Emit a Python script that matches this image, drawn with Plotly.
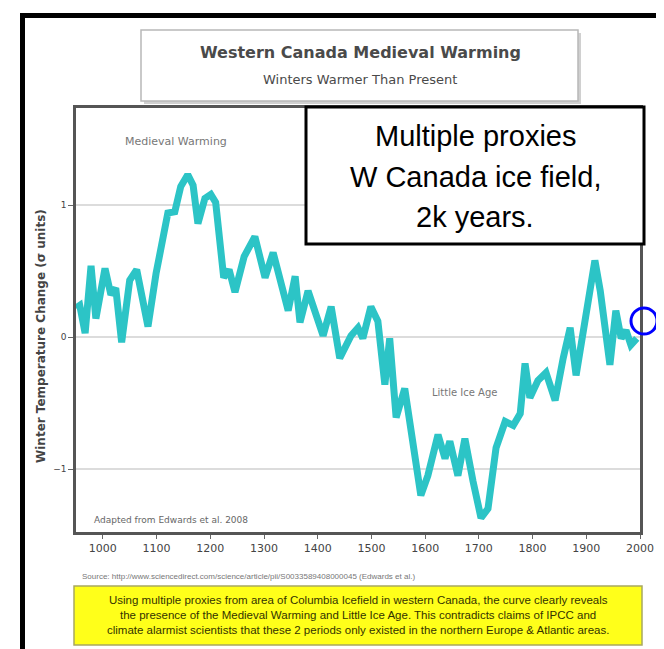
import plotly.graph_objects as go

# ---- data ----
years = [950, 957, 967, 978, 987, 1004, 1015, 1024, 1035, 1050, 1063, 1084, 1099, 1112,
         1121, 1134, 1145, 1158, 1168, 1177, 1190, 1201, 1210, 1225, 1235, 1246, 1263,
         1283, 1302, 1317, 1345, 1358, 1367, 1382, 1410, 1425, 1441, 1462, 1475, 1484,
         1499, 1512, 1525, 1534, 1546, 1562, 1592, 1605, 1624, 1637, 1646, 1661, 1674,
         1689, 1704, 1717, 1732, 1749, 1764, 1777, 1786, 1795, 1810, 1825, 1842, 1857,
         1870, 1881, 1899, 1916, 1926, 1944, 1955, 1965, 1974, 1983, 1994]
winter_temp = [0.22, 0.24, 0.03, 0.54, 0.14, 0.52, 0.32, 0.37, -0.04, 0.43, 0.51, 0.08, 0.48,
               0.75, 0.94, 0.95, 1.14, 1.23, 1.15, 0.86, 1.05, 1.08, 1.02, 0.45, 0.51, 0.34,
               0.61, 0.76, 0.45, 0.64, 0.20, 0.46, 0.11, 0.35, 0.01, 0.23, -0.16, 0.01, 0.07,
               -0.01, 0.23, 0.12, -0.36, -0.01, -0.61, -0.39, -1.20, -1.05, -0.74, -0.92,
               -0.79, -1.05, -0.77, -1.09, -1.37, -1.30, -0.84, -0.64, -0.67, -0.58, -0.20,
               -0.46, -0.33, -0.27, -0.48, -0.16, 0.07, -0.29, 0.14, 0.58, 0.35, -0.21, 0.20,
               -0.01, 0.05, -0.06, -0.01]
x_ticks = [1000, 1100, 1200, 1300, 1400, 1500, 1600, 1700, 1800, 1900, 2000]
y_ticks = [-1, 0, 1]

W, H = 664, 649
L, R, T, B = 68, 632, 100, 524


def px(x):
    return (x - L) / (R - L)


def py(y):
    return (B - y) / (B - T)


fig = go.Figure()
fig.add_trace(go.Scatter(x=years, y=winter_temp, mode="lines",
                         line=dict(color="#2CC4C6", width=7), hoverinfo="skip",
                         showlegend=False))

shapes = []
# outer black frame
shapes.append(dict(type="rect", xref="paper", yref="paper", x0=px(12), x1=px(17), y0=py(5), y1=py(649),
                   fillcolor="black", line=dict(width=0), layer="above"))
shapes.append(dict(type="rect", xref="paper", yref="paper", x0=px(12), x1=px(654), y0=py(5), y1=py(10),
                   fillcolor="black", line=dict(width=0), layer="above"))
shapes.append(dict(type="rect", xref="paper", yref="paper", x0=px(649), x1=px(654), y0=py(5), y1=py(100),
                   fillcolor="black", line=dict(width=0), layer="above"))
shapes.append(dict(type="line", xref="paper", yref="paper", x0=px(12), x1=px(664), y0=py(647), y1=py(647),
                   line=dict(color="#9a9a9a", width=1.5)))
# title box with shadow
shapes.append(dict(type="rect", xref="paper", yref="paper", x0=px(136), x1=px(573), y0=py(25), y1=py(96),
                   fillcolor="#d0d0d0", line=dict(width=0)))
shapes.append(dict(type="rect", xref="paper", yref="paper", x0=px(133), x1=px(570), y0=py(22), y1=py(93),
                   fillcolor="white", line=dict(color="#b8b8b8", width=1.5)))
# yellow note box
shapes.append(dict(type="rect", xref="paper", yref="paper", x0=px(66), x1=px(634), y0=py(578), y1=py(637),
                   fillcolor="#FFFF1A", line=dict(color="#a8a860", width=1.5)))
# annotation box
shapes.append(dict(type="rect", xref="paper", yref="paper", x0=px(298), x1=px(636), y0=py(99), y1=py(236),
                   fillcolor="white", line=dict(color="black", width=3), layer="above"))
# blue circle
shapes.append(dict(type="circle", xref="paper", yref="paper", x0=px(623), x1=px(649), y0=py(300), y1=py(326),
                   line=dict(color="#0000FF", width=3), layer="above"))


def note(text, x, y, size, color, xanchor="center", angle=0, family="Liberation Sans"):
    return dict(text=text, x=px(x), y=py(y), xref="paper", yref="paper", showarrow=False,
                xanchor=xanchor, yanchor="middle", textangle=angle,
                font=dict(family=family, size=size, color=color))


ann = []
ann.append(note("<b>Western Canada Medieval Warming</b>", 352, 45, 16, "#4a4a4a", family="DejaVu Sans"))
ann.append(note("Winters Warmer Than Present", 352, 72, 13, "#4a4a4a", family="DejaVu Sans"))
for txt, yy in [("Multiple proxies", 128), ("W Canada ice field,", 169), ("2k years.", 209)]:
    ann.append(note(txt, 467, yy, 29, "black"))
ann.append(note("Medieval Warming", 168, 133, 11, "#777777", family="DejaVu Sans"))
ann.append(note("Little Ice Age", 456, 384, 10, "#777777", family="DejaVu Sans"))
ann.append(note("Adapted from Edwards et al. 2008", 163, 512, 9, "#666666", family="DejaVu Sans"))
ann.append(note("<b>Winter Temperature Change (σ units)</b>", 33, 328, 12, "#444444", angle=-90,
                family="DejaVu Sans"))
ann.append(note("Source: http://www.sciencedirect.com/science/article/pii/S0033589408000045 (Edwards et al.)",
                72, 568, 8, "#777777", xanchor="left"))
note_lines = [
    "Using multiple proxies from area of Columbia Icefield in western Canada, the curve clearly reveals",
    "the presence of the Medieval Warming and Little Ice Age. This contradicts claims of IPCC and",
    "climate alarmist scientists that these 2 periods only existed in the northern Europe & Atlantic areas.",
]
for i, line in enumerate(note_lines):
    ann.append(note(line, 350, 592 + 15 * i, 11.5, "#333300"))

fig.update_layout(
    width=W, height=H,
    margin=dict(l=L, r=W - R, t=T, b=H - B),
    paper_bgcolor="white", plot_bgcolor="white",
    shapes=shapes, annotations=ann, showlegend=False,
    xaxis=dict(range=[950, 2000], tickvals=x_ticks, ticks="outside", ticklen=4, tickcolor="#666",
               showgrid=False, zeroline=False, showline=True, linecolor="#555555", linewidth=2.5,
               mirror=True, tickfont=dict(family="DejaVu Sans", size=11, color="#444444")),
    yaxis=dict(range=[-1.477, 1.735], tickvals=y_ticks, ticks="outside", ticklen=5, tickcolor="#666",
               showgrid=True, gridcolor="#dcdcdc", gridwidth=1.5, zeroline=False, showline=True,
               linecolor="#555555", linewidth=2.5, mirror=True,
               tickfont=dict(family="DejaVu Sans", size=9, color="#444444")),
)

fig.write_html("out.html")
